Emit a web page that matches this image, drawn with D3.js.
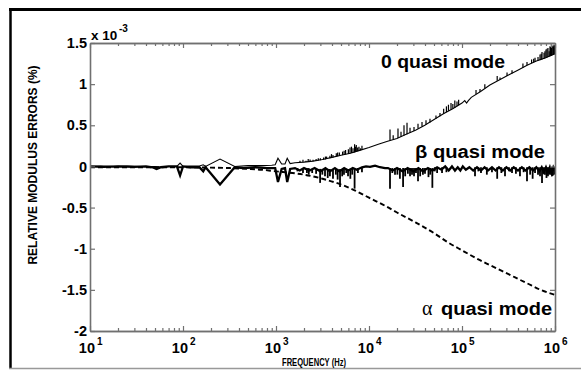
<!DOCTYPE html>
<html>
<head>
<meta charset="utf-8">
<script src="https://cdn.jsdelivr.net/npm/d3@7/dist/d3.min.js"></script>
<style>
  html, body { margin: 0; padding: 0; background: #fff; }
  svg { display: block; }
  .bold { font-family: "Liberation Sans", Arial, Helvetica, sans-serif; font-weight: bold; }
</style>
</head>
<body>
<svg id="chart" width="581" height="370"></svg>
<script>
// ---- axis setup (frequency in Hz, error in units of 1e-3 %) ----
const yTicks = [-2, -1.5, -1, -0.5, 0, 0.5, 1, 1.5];
const yTickLabels = ["-2", "-1.5", "-1", "-0.5", "0", "0.5", "1", "1.5"];
const xDecades = [10, 100, 1000, 10000, 100000, 1000000];
const xExponents = ["1", "2", "3", "4", "5", "6"];
const xMinor = [20,30,40,50,60,70,80,90, 200,300,400,500,600,700,800,900,
  2000,3000,4000,5000,6000,7000,8000,9000, 20000,30000,40000,50000,60000,70000,80000,90000,
  200000,300000,400000,500000,600000,700000,800000,900000];

// ---- "0" quasi mode: trace [Hz, value] and narrow resonance spikes [Hz, from, to] ----
const zeroTrace = [
  [10,0.00],[13,0.005],[18,0.0],[25,0.005],[35,0.0],[50,0.0],[60,-0.01],[70,0.0],[86,0.0],[93,0.04],[100,0.0],
  [120,0.005],[150,0.005],[165,0.02],[175,0.0],[250,0.09],[360,0.0],[500,0.01],[700,0.01],[900,0.015],[980,0.02],
  [1050,0.10],[1150,0.03],[1250,0.03],[1320,0.10],[1420,0.035],[1600,0.045],[2000,0.052],[2500,0.064],[3162,0.085],
  [4000,0.11],[5000,0.135],[6310,0.16],[7943,0.195],[10000,0.23],[12590,0.27],[15850,0.305],[19950,0.34],
  [25120,0.39],[31620,0.44],[39810,0.50],[50120,0.57],[63100,0.64],[79430,0.70],[100000,0.77],[107000,0.80],
  [112000,0.77],[117000,0.80],[125900,0.84],[158500,0.91],[199500,0.99],[251200,1.05],[316200,1.11],[398100,1.17],
  [501200,1.23],[631000,1.28],[794300,1.32],[1000000,1.37]
];
const zeroSpikes = [
  [1811,0.05,0.07],[1950,0.052,0.08],[2102,0.055,0.07],[2220,0.057,0.09],[2323,0.058,0.085],[2500,0.064,0.08],
  [2700,0.068,0.09],[2850,0.072,0.10],[3000,0.075,0.10],[3250,0.08,0.11],[3400,0.085,0.12],[3500,0.09,0.12],
  [3800,0.10,0.13],[3950,0.105,0.15],[4100,0.11,0.14],[4450,0.12,0.16],[4600,0.125,0.17],[4800,0.13,0.17],
  [5200,0.138,0.18],[5400,0.142,0.19],[5600,0.145,0.20],[6000,0.152,0.21],[6250,0.158,0.23],[6480,0.163,0.24],
  [6727,0.167,0.22],[7000,0.17,0.27],[7150,0.175,0.24],[7300,0.18,0.26],[7550,0.185,0.23],[7800,0.19,0.24],
  [8100,0.195,0.22],[8400,0.20,0.25],[16820,0.315,0.45],[18200,0.33,0.38],[20500,0.345,0.46],[22090,0.36,0.42],
  [23790,0.375,0.50],[25630,0.39,0.53],[27610,0.41,0.47],[30480,0.43,0.48],[33650,0.46,0.52],[37150,0.485,0.54],
  [41010,0.51,0.56],[45270,0.535,0.58],[52500,0.58,0.62],[57980,0.61,0.65],[63500,0.64,0.70],[68000,0.66,0.73],
  [71500,0.675,0.75],[76180,0.69,0.77],[79700,0.70,0.76],[83700,0.71,0.80],[88350,0.73,0.79],[92000,0.745,0.81],
  [141500,0.88,0.93],[156200,0.905,0.94],[176000,0.95,1.0],[239000,1.04,1.10],[256400,1.055,1.08],
  [305000,1.10,1.14],[345100,1.13,1.17],[452000,1.20,1.25],[500000,1.23,1.27],[560000,1.255,1.30],
  [590000,1.265,1.31],[609800,1.27,1.32],[656700,1.285,1.33],[690000,1.29,1.36],[710000,1.295,1.37],
  [725000,1.30,1.39],[762000,1.31,1.38],[780000,1.315,1.40],[800000,1.32,1.42],[820000,1.325,1.43],
  [840000,1.33,1.44],[865000,1.335,1.40],[883600,1.34,1.46],[895000,1.343,1.45],[905000,1.345,1.43],
  [915000,1.348,1.44],[930000,1.35,1.47],[951500,1.355,1.45],[960000,1.357,1.46],[975000,1.36,1.48],
  [990000,1.365,1.47]
];

// ---- beta quasi mode ----
const betaTrace = [
  [10,0.0],[14,-0.005],[20,0.0],[30,-0.005],[40,0.0],[47,-0.01],[52,-0.03],[58,-0.01],[70,0.0],[86,0.0],[93,-0.11],
  [100,0.0],[120,-0.01],[150,-0.01],[165,-0.06],[175,-0.01],[250,-0.22],[360,-0.01],[450,-0.02],[600,-0.01],
  [800,-0.02],[980,-0.02],[1050,-0.19],[1150,-0.03],[1250,-0.02],[1320,-0.19],[1420,-0.03],[1600,-0.02],
  [1800,-0.05],[2000,-0.02],[2300,-0.05],[2600,-0.02],[3000,-0.06],[3400,-0.02],[3800,-0.06],[4300,-0.02],
  [4800,-0.06],[5400,-0.02],[6000,-0.05],[6700,-0.02],[7400,-0.04],[8400,-0.01],[9290,0.0],[10260,-0.005],
  [11610,0.01],[13130,-0.01],[14860,-0.02],[16000,-0.02],[18000,-0.05],[20000,-0.02],[23000,-0.06],[26000,-0.02],
  [30000,-0.06],[34000,-0.02],[38000,-0.06],[43000,-0.02],[48000,-0.05],[54000,-0.01],[60000,-0.04],[66000,0.0],
  [72000,-0.05],[78000,0.0],[84000,-0.05],[90000,-0.01],[96000,-0.05],[102000,0.0],[110000,-0.04],[120000,-0.01],
  [132000,-0.05],[145000,-0.01],[160000,-0.05],[175000,-0.01],[190000,-0.05],[210000,-0.01],[230000,-0.05],
  [250000,-0.01],[275000,-0.05],[300000,-0.01],[330000,-0.05],[360000,-0.01],[400000,-0.05],[440000,-0.01],
  [480000,-0.05],[530000,-0.01],[580000,-0.05],[630000,-0.01],[680000,-0.06],[720000,-0.01],[760000,-0.07],
  [800000,-0.01],[840000,-0.07],[880000,-0.01],[920000,-0.08],[960000,-0.01],[1000000,-0.05]
];
const betaSpikes = [
  [1700,-0.02,-0.06],[1950,-0.02,-0.08],[2150,-0.02,-0.08],[2250,-0.02,-0.10],[2450,-0.03,-0.08],[2700,-0.03,-0.09],
  [2980,-0.03,-0.20],[3150,-0.03,-0.10],[3365,-0.03,-0.12],[3600,-0.03,-0.14],[3800,-0.03,-0.12],[4100,-0.03,-0.15],
  [4400,-0.03,-0.10],[4600,-0.03,-0.16],[4880,-0.03,-0.25],[5150,-0.03,-0.12],[5383,-0.03,-0.10],[5700,-0.03,-0.08],
  [5950,-0.03,-0.12],[6300,-0.03,-0.15],[6600,-0.02,-0.10],[7000,-0.03,-0.27],[7600,-0.02,-0.08],[8400,-0.01,-0.07],
  [16820,-0.02,-0.27],[17800,-0.02,-0.08],[19040,-0.02,-0.10],[20200,-0.02,-0.10],[21500,-0.02,-0.15],
  [23250,-0.02,-0.25],[24500,-0.02,-0.12],[26200,-0.02,-0.09],[27610,-0.02,-0.12],[29000,-0.02,-0.10],
  [30480,-0.02,-0.12],[32000,-0.02,-0.08],[33650,-0.02,-0.18],[35500,-0.02,-0.12],[38000,-0.02,-0.10],
  [40000,-0.02,-0.09],[43600,-0.02,-0.13],[45500,-0.02,-0.10],[48000,-0.02,-0.26],[51000,-0.01,-0.06],
  [54000,-0.01,-0.08],[61000,-0.01,-0.08],[68000,-0.01,-0.07],[138000,-0.01,-0.12],[150000,-0.01,-0.06],
  [160000,-0.01,-0.08],[185000,-0.01,-0.10],[210000,-0.01,-0.07],[239000,-0.01,-0.15],[265000,-0.01,-0.08],
  [290000,-0.01,-0.12],[320000,-0.01,-0.06],[345000,-0.01,-0.08],[380000,-0.01,-0.09],[420000,-0.01,-0.12],
  [460000,-0.01,-0.07],[500000,-0.01,-0.18],[540000,-0.01,-0.10],[575000,-0.01,-0.15],[610000,-0.01,-0.08],
  [656700,-0.01,-0.10],[690000,-0.01,-0.12],[725000,-0.01,-0.20],[750000,-0.01,-0.09],[780000,-0.01,-0.10],
  [810000,-0.01,-0.14],[840000,-0.01,-0.12],[870000,-0.01,-0.10],[905000,-0.01,-0.10],[930000,-0.01,-0.12],
  [951500,-0.01,-0.11],[985000,-0.01,-0.10]
];

// ---- alpha quasi mode ----
const alphaTrace = [
  [10,-0.01],[30,-0.01],[100,-0.01],[200,-0.015],[316,-0.02],[500,-0.03],[700,-0.04],[1000,-0.06],[1500,-0.08],
  [2000,-0.10],[3162,-0.15],[5000,-0.22],[7000,-0.29],[10000,-0.38],[15000,-0.48],[20000,-0.56],[31623,-0.68],
  [50000,-0.81],[70000,-0.92],[100000,-1.02],[150000,-1.13],[200000,-1.20],[316228,-1.31],[500000,-1.42],
  [700000,-1.50],[1000000,-1.56]
];

// ---- layout ----
const svg = d3.select("#chart");
const plotLeft = 90, plotRight = 555, plotTop = 43, plotBottom = 331;

const x = d3.scaleLog().domain([10, 1e6]).range([plotLeft, plotRight]);
const y = d3.scaleLinear().domain([-2, 1.5]).range([plotBottom, plotTop]);

// figure frame
svg.append("line").attr("x1", 9).attr("x2", 581).attr("y1", 9.5).attr("y2", 9.5)
  .attr("stroke", "#000").attr("stroke-width", 3);
svg.append("line").attr("x1", 10.5).attr("x2", 10.5).attr("y1", 8).attr("y2", 369)
  .attr("stroke", "#000").attr("stroke-width", 2.5);
svg.append("line").attr("x1", 9).attr("x2", 581).attr("y1", 368.5).attr("y2", 368.5)
  .attr("stroke", "#999").attr("stroke-width", 1.5);

// curves
const line = d3.line().x(d => x(d[0])).y(d => y(d[1]));
const plot = svg.append("g");
plot.append("path").datum(alphaTrace)
  .attr("d", d3.line().x(d => x(d[0])).y(d => y(d[1])).curve(d3.curveMonotoneX))
  .attr("fill", "none").attr("stroke", "#000").attr("stroke-width", 1.9)
  .attr("stroke-dasharray", "5,3");

plot.append("path").datum(betaTrace).attr("d", line)
  .attr("fill", "none").attr("stroke", "#000").attr("stroke-width", 2.3);
plot.append("g").selectAll("path").data(betaSpikes).join("path")
  .attr("d", d => line([[d[0], d[1]], [d[0], d[2]]]))
  .attr("stroke", "#000").attr("stroke-width", 1.8);

plot.append("path").datum(zeroTrace).attr("d", line)
  .attr("fill", "none").attr("stroke", "#000").attr("stroke-width", 1.1);
plot.append("g").selectAll("path").data(zeroSpikes).join("path")
  .attr("d", d => line([[d[0], d[1]], [d[0], d[2]]]))
  .attr("stroke", "#000").attr("stroke-width", 1.2);

// axes (inward ticks on all four sides)
function styleAxis(g) {
  g.selectAll(".domain").attr("stroke", "#707070").attr("stroke-width", 1.6);
  g.selectAll(".tick line").attr("stroke", "#707070").attr("stroke-width", 1.2);
}
const axL = svg.append("g").attr("transform", `translate(${plotLeft},0)`)
  .call(d3.axisLeft(y).tickValues(yTicks).tickSize(-5).tickSizeOuter(0).tickPadding(3)
    .tickFormat((d, i) => yTickLabels[i]));
axL.selectAll("text").attr("class", "bold").attr("font-size", 14.5).attr("fill", "#000");
styleAxis(axL);

const axR = svg.append("g").attr("transform", `translate(${plotRight},0)`)
  .call(d3.axisRight(y).tickValues(yTicks).tickSize(-5).tickSizeOuter(0).tickFormat(""));
styleAxis(axR);

const axB = svg.append("g").attr("transform", `translate(0,${plotBottom})`)
  .call(d3.axisBottom(x).tickValues(xDecades).tickSize(-5).tickSizeOuter(0).tickFormat(""));
styleAxis(axB);
const axBm = svg.append("g").attr("transform", `translate(0,${plotBottom})`)
  .call(d3.axisBottom(x).tickValues(xMinor).tickSize(-3).tickSizeOuter(0).tickFormat(""));
styleAxis(axBm);
const axT = svg.append("g").attr("transform", `translate(0,${plotTop})`)
  .call(d3.axisTop(x).tickValues(xDecades).tickSize(-5).tickSizeOuter(0).tickFormat(""));
styleAxis(axT);
const axTm = svg.append("g").attr("transform", `translate(0,${plotTop})`)
  .call(d3.axisTop(x).tickValues(xMinor).tickSize(-3).tickSizeOuter(0).tickFormat(""));
styleAxis(axTm);

// decade labels 10^n
const xl = svg.append("g").selectAll("g").data(xDecades).join("g")
  .attr("transform", d => `translate(${x(d)},0)`);
xl.append("text").attr("class", "bold").attr("font-size", 14.5)
  .attr("x", 5).attr("y", 353).attr("text-anchor", "end").text("10");
xl.append("text").attr("class", "bold").attr("font-size", 10)
  .attr("x", 7).attr("y", 345).text((d, i) => xExponents[i]);

// exponent note above the y axis
svg.append("text").attr("class", "bold").attr("font-size", 13.5)
  .attr("x", 91).attr("y", 40).text("x 10");
svg.append("text").attr("class", "bold").attr("font-size", 10)
  .attr("x", 119).attr("y", 32).text("-3");

// axis titles
svg.append("text").attr("class", "bold").attr("font-size", 12)
  .attr("transform", "translate(37,165) rotate(-90)")
  .attr("text-anchor", "middle").text("RELATIVE MODULUS ERRORS (%)");
svg.append("text").attr("class", "bold").attr("font-size", 11)
  .attr("x", 282).attr("y", 366).attr("textLength", 64).attr("lengthAdjust", "spacingAndGlyphs")
  .text("FREQUENCY (Hz)");

// mode labels
svg.append("text").attr("class", "bold").attr("font-size", 17.5)
  .attr("x", 381).attr("y", 68).attr("textLength", 124).attr("lengthAdjust", "spacingAndGlyphs")
  .text("0 quasi mode");
svg.append("text").attr("class", "bold").attr("font-size", 17.5)
  .attr("x", 415).attr("y", 158).attr("textLength", 130).attr("lengthAdjust", "spacingAndGlyphs")
  .text("β quasi mode");
svg.append("text").attr("font-family", "'Liberation Serif', 'DejaVu Serif', serif").attr("font-size", 20)
  .attr("x", 422).attr("y", 315).text("α");
svg.append("text").attr("class", "bold").attr("font-size", 17.5)
  .attr("x", 441).attr("y", 315).attr("textLength", 111).attr("lengthAdjust", "spacingAndGlyphs")
  .text("quasi mode");
</script>
</body>
</html>
